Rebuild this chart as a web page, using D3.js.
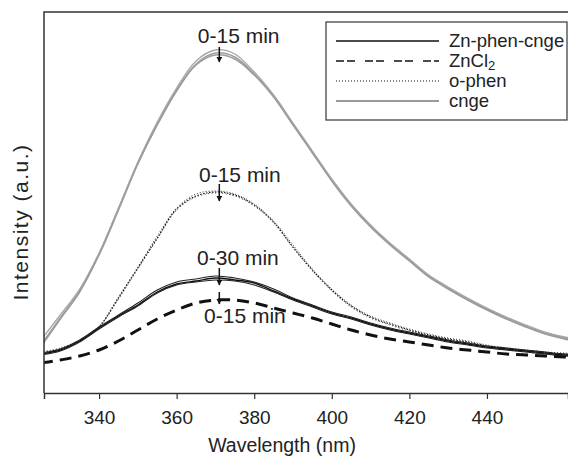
<!DOCTYPE html>
<html>
<head>
<meta charset="utf-8">
<script src="https://cdn.jsdelivr.net/npm/d3@7"></script>
<style>
  body { margin: 0; background: #fff; }
  text { font-family: "Liberation Sans", Arial, sans-serif; fill: #222; }
</style>
</head>
<body>
<div id="chart"></div>
<script>
var margin = {top: 12, right: 0, bottom: 66, left: 44},
    width = 568 - margin.left - margin.right,
    height = 459 - margin.top - margin.bottom;

// wavelength (nm)
var wavelengths = [325, 330, 335, 340, 345, 350, 355, 360, 365, 370, 375, 380, 385, 390, 395,
                   400, 405, 410, 415, 420, 425, 430, 435, 440, 445, 450, 455, 460, 465];

// intensity (a.u.), several scans per compound
var cnge1 = [48, 75, 102, 139, 184, 230, 269, 303, 329, 340, 336, 319, 297, 269, 241, 213, 188, 167, 149, 133, 117, 105, 94, 84, 75, 67, 60, 55, 51];
var cnge2 = [53, 78, 104, 140, 185, 231, 271, 305, 332, 343, 339, 321, 298, 270, 242, 214, 189, 168, 150, 134, 118, 106, 95, 85, 76, 68, 61, 56, 52];
var cnge3 = [46, 74, 101, 138, 183, 229, 268, 302, 328, 338, 334, 318, 296, 268, 240, 212, 187, 166, 148, 132, 116, 104, 93, 83, 74, 66, 59, 54, 50];

var ophen1 = [40, 44, 52, 66, 95, 125, 155, 184, 197, 201, 198, 188, 171, 146, 123, 103, 87, 76, 69, 63, 58, 54, 51, 47, 44, 42, 40, 39, 38];
var ophen2 = [41, 45, 53, 67, 96, 126, 157, 185, 199, 202, 199, 189, 172, 148, 124, 104, 88, 77, 70, 64, 59, 55, 52, 48, 45, 43, 41, 40, 39];
var ophen3 = [39, 44, 52, 66, 94, 124, 154, 183, 196, 200, 197, 187, 170, 145, 122, 102, 86, 75, 68, 62, 57, 53, 50, 46, 43, 41, 39, 38, 37];

var znphen1 = [39, 43, 52, 65, 77, 88, 101, 109, 112, 115, 113, 110, 102, 94, 87, 80, 75, 69, 64, 60, 56, 52, 49, 46, 44, 42, 40, 38, 37];
var znphen2 = [40, 44, 53, 66, 78, 90, 103, 111, 114, 117, 115, 111, 104, 95, 88, 81, 76, 70, 65, 61, 57, 53, 50, 47, 45, 43, 41, 39, 38];
var znphen3 = [38, 42, 51, 64, 76, 87, 100, 108, 111, 113, 112, 108, 101, 93, 86, 79, 74, 68, 63, 59, 55, 51, 48, 45, 43, 41, 39, 37, 36];

var zncl2 = [30, 33, 37, 43, 52, 63, 74, 83, 90, 93, 93, 90, 85, 80, 75, 69, 63, 58, 54, 51, 48, 45, 43, 41, 39, 38, 37, 36, 35];

var xTicks = [340, 360, 380, 400, 420, 440];

// time annotations: label, label centre (nm), label baseline, arrow top, arrow tip (a.u.)
var notes = [
  {label: "0-15 min", x: 376, y: 350, a0: 346, a1: 331},
  {label: "0-15 min", x: 376.3, y: 211, a0: 209, a1: 192},
  {label: "0-30 min", x: 375.8, y: 128, a0: 125, a1: 108},
  {label: "0-15 min", x: 377.6, y: 70, a0: 101, a1: 89}
];
var arrowNm = 371;

var svg = d3.select("#chart")
  .append("svg")
    .attr("width", width + margin.left + margin.right)
    .attr("height", height + margin.top + margin.bottom)
  .append("g")
    .attr("transform", "translate(" + margin.left + "," + margin.top + ")");

var x = d3.scaleLinear()
  .domain([325.8, 460.9])
  .range([0, width]);

var y = d3.scaleLinear()
  .domain([0, 381])
  .range([height, 0]);

svg.append("defs").append("clipPath")
    .attr("id", "clip")
  .append("rect")
    .attr("width", width)
    .attr("height", height);

svg.select("defs").append("marker")
    .attr("id", "head")
    .attr("viewBox", "0 0 10 10")
    .attr("refX", 9).attr("refY", 5)
    .attr("markerWidth", 4).attr("markerHeight", 4)
    .attr("orient", "auto")
  .append("path")
    .attr("d", "M0,0L10,5L0,10z")
    .style("fill", "#111");

var line = d3.line()
  .x(function(d, i) { return x(wavelengths[i]); })
  .y(function(d) { return y(d); })
  .curve(d3.curveCatmullRom);

var plot = svg.append("g").attr("clip-path", "url(#clip)");

var series = [
  {data: cnge1, color: "#9c9c9c", w: 1.6, dash: null},
  {data: cnge2, color: "#a6a6a6", w: 1.3, dash: null},
  {data: cnge3, color: "#9c9c9c", w: 1.5, dash: null},
  {data: ophen1, color: "#111", w: 1.1, dash: "1.5,1.5"},
  {data: ophen2, color: "#222", w: 0.9, dash: "1,2"},
  {data: ophen3, color: "#222", w: 0.9, dash: "1,2.5"},
  {data: znphen1, color: "#111", w: 1.4, dash: null},
  {data: znphen2, color: "#222", w: 1.1, dash: null},
  {data: znphen3, color: "#222", w: 1.1, dash: null},
  {data: zncl2, color: "#111", w: 3, dash: "12,7"}
];

plot.selectAll("path.spec")
  .data(series)
  .enter()
  .append("path")
    .attr("class", "spec")
    .attr("d", function(d) { return line(d.data); })
    .style("fill", "none")
    .style("stroke", function(d) { return d.color; })
    .style("stroke-width", function(d) { return d.w; })
    .style("stroke-dasharray", function(d) { return d.dash; });

// frame: left axis + top border
svg.append("path")
    .attr("d", "M" + width + ",0H0V" + height)
    .style("fill", "none")
    .style("stroke", "#333")
    .style("stroke-width", 1.5);

var xAxis = svg.append("g")
    .attr("transform", "translate(0," + height + ")")
    .call(d3.axisBottom(x).tickValues(xTicks).tickSize(6).tickPadding(12).tickFormat(d3.format("d")));
xAxis.select(".domain").style("stroke", "#333").style("stroke-width", 1.5);
xAxis.selectAll(".tick line").style("stroke", "#333").style("stroke-width", 1.2);
xAxis.selectAll("text")
    .style("font-size", "19px")
    .style("font-family", "Liberation Sans, Arial, sans-serif")
    .style("fill", "#222");

svg.append("text")
    .attr("x", 282 - margin.left)
    .attr("y", height + 59)
    .style("font-size", "19.5px")
    .style("text-anchor", "middle")
    .text("Wavelength (nm)");

svg.append("text")
    .attr("transform", "rotate(-90)")
    .attr("x", -(222 - margin.top))
    .attr("y", -16)
    .style("font-size", "21px")
    .style("letter-spacing", "1.5px")
    .style("text-anchor", "middle")
    .text("Intensity (a.u.)");

// annotations
notes.forEach(function(n) {
  svg.append("text")
      .attr("x", x(n.x))
      .attr("y", y(n.y))
      .style("font-size", "21px")
      .style("text-anchor", "middle")
      .text(n.label);
  svg.append("line")
      .attr("x1", x(arrowNm)).attr("x2", x(arrowNm))
      .attr("y1", y(n.a0)).attr("y2", y(n.a1))
      .style("stroke", "#111")
      .style("stroke-width", 1.5)
      .attr("marker-end", "url(#head)");
});

// legend
var legendItems = [
  {name: "Zn-phen-cnge", color: "#111", w: 1.5, dash: null},
  {name: "ZnCl", sub: "2", color: "#111", w: 1.5, dash: "8,3,8,10"},
  {name: "o-phen", color: "#111", w: 1, dash: "1,2"},
  {name: "cnge", color: "#9a9a9a", w: 1.8, dash: null}
];

var legend = svg.append("g")
    .attr("transform", "translate(" + (326 - margin.left) + "," + (22 - margin.top) + ")");

legend.append("rect")
    .attr("width", 241)
    .attr("height", 98)
    .style("fill", "#fff")
    .style("stroke", "#444")
    .style("stroke-width", 1.3);

var rows = legend.selectAll("g.row")
  .data(legendItems)
  .enter()
  .append("g")
    .attr("class", "row")
    .attr("transform", function(d, i) { return "translate(0," + (19 + i * 20) + ")"; });

rows.append("line")
    .attr("x1", 10).attr("x2", 113)
    .style("stroke", function(d) { return d.color; })
    .style("stroke-width", function(d) { return d.w; })
    .style("stroke-dasharray", function(d) { return d.dash; });

var labels = rows.append("text")
    .attr("x", 123)
    .attr("y", 6)
    .style("font-size", "18.5px")
    .text(function(d) { return d.name; });

labels.filter(function(d) { return d.sub; })
  .append("tspan")
    .attr("dy", 3)
    .style("font-size", "13px")
    .text(function(d) { return d.sub; });
</script>
</body>
</html>
